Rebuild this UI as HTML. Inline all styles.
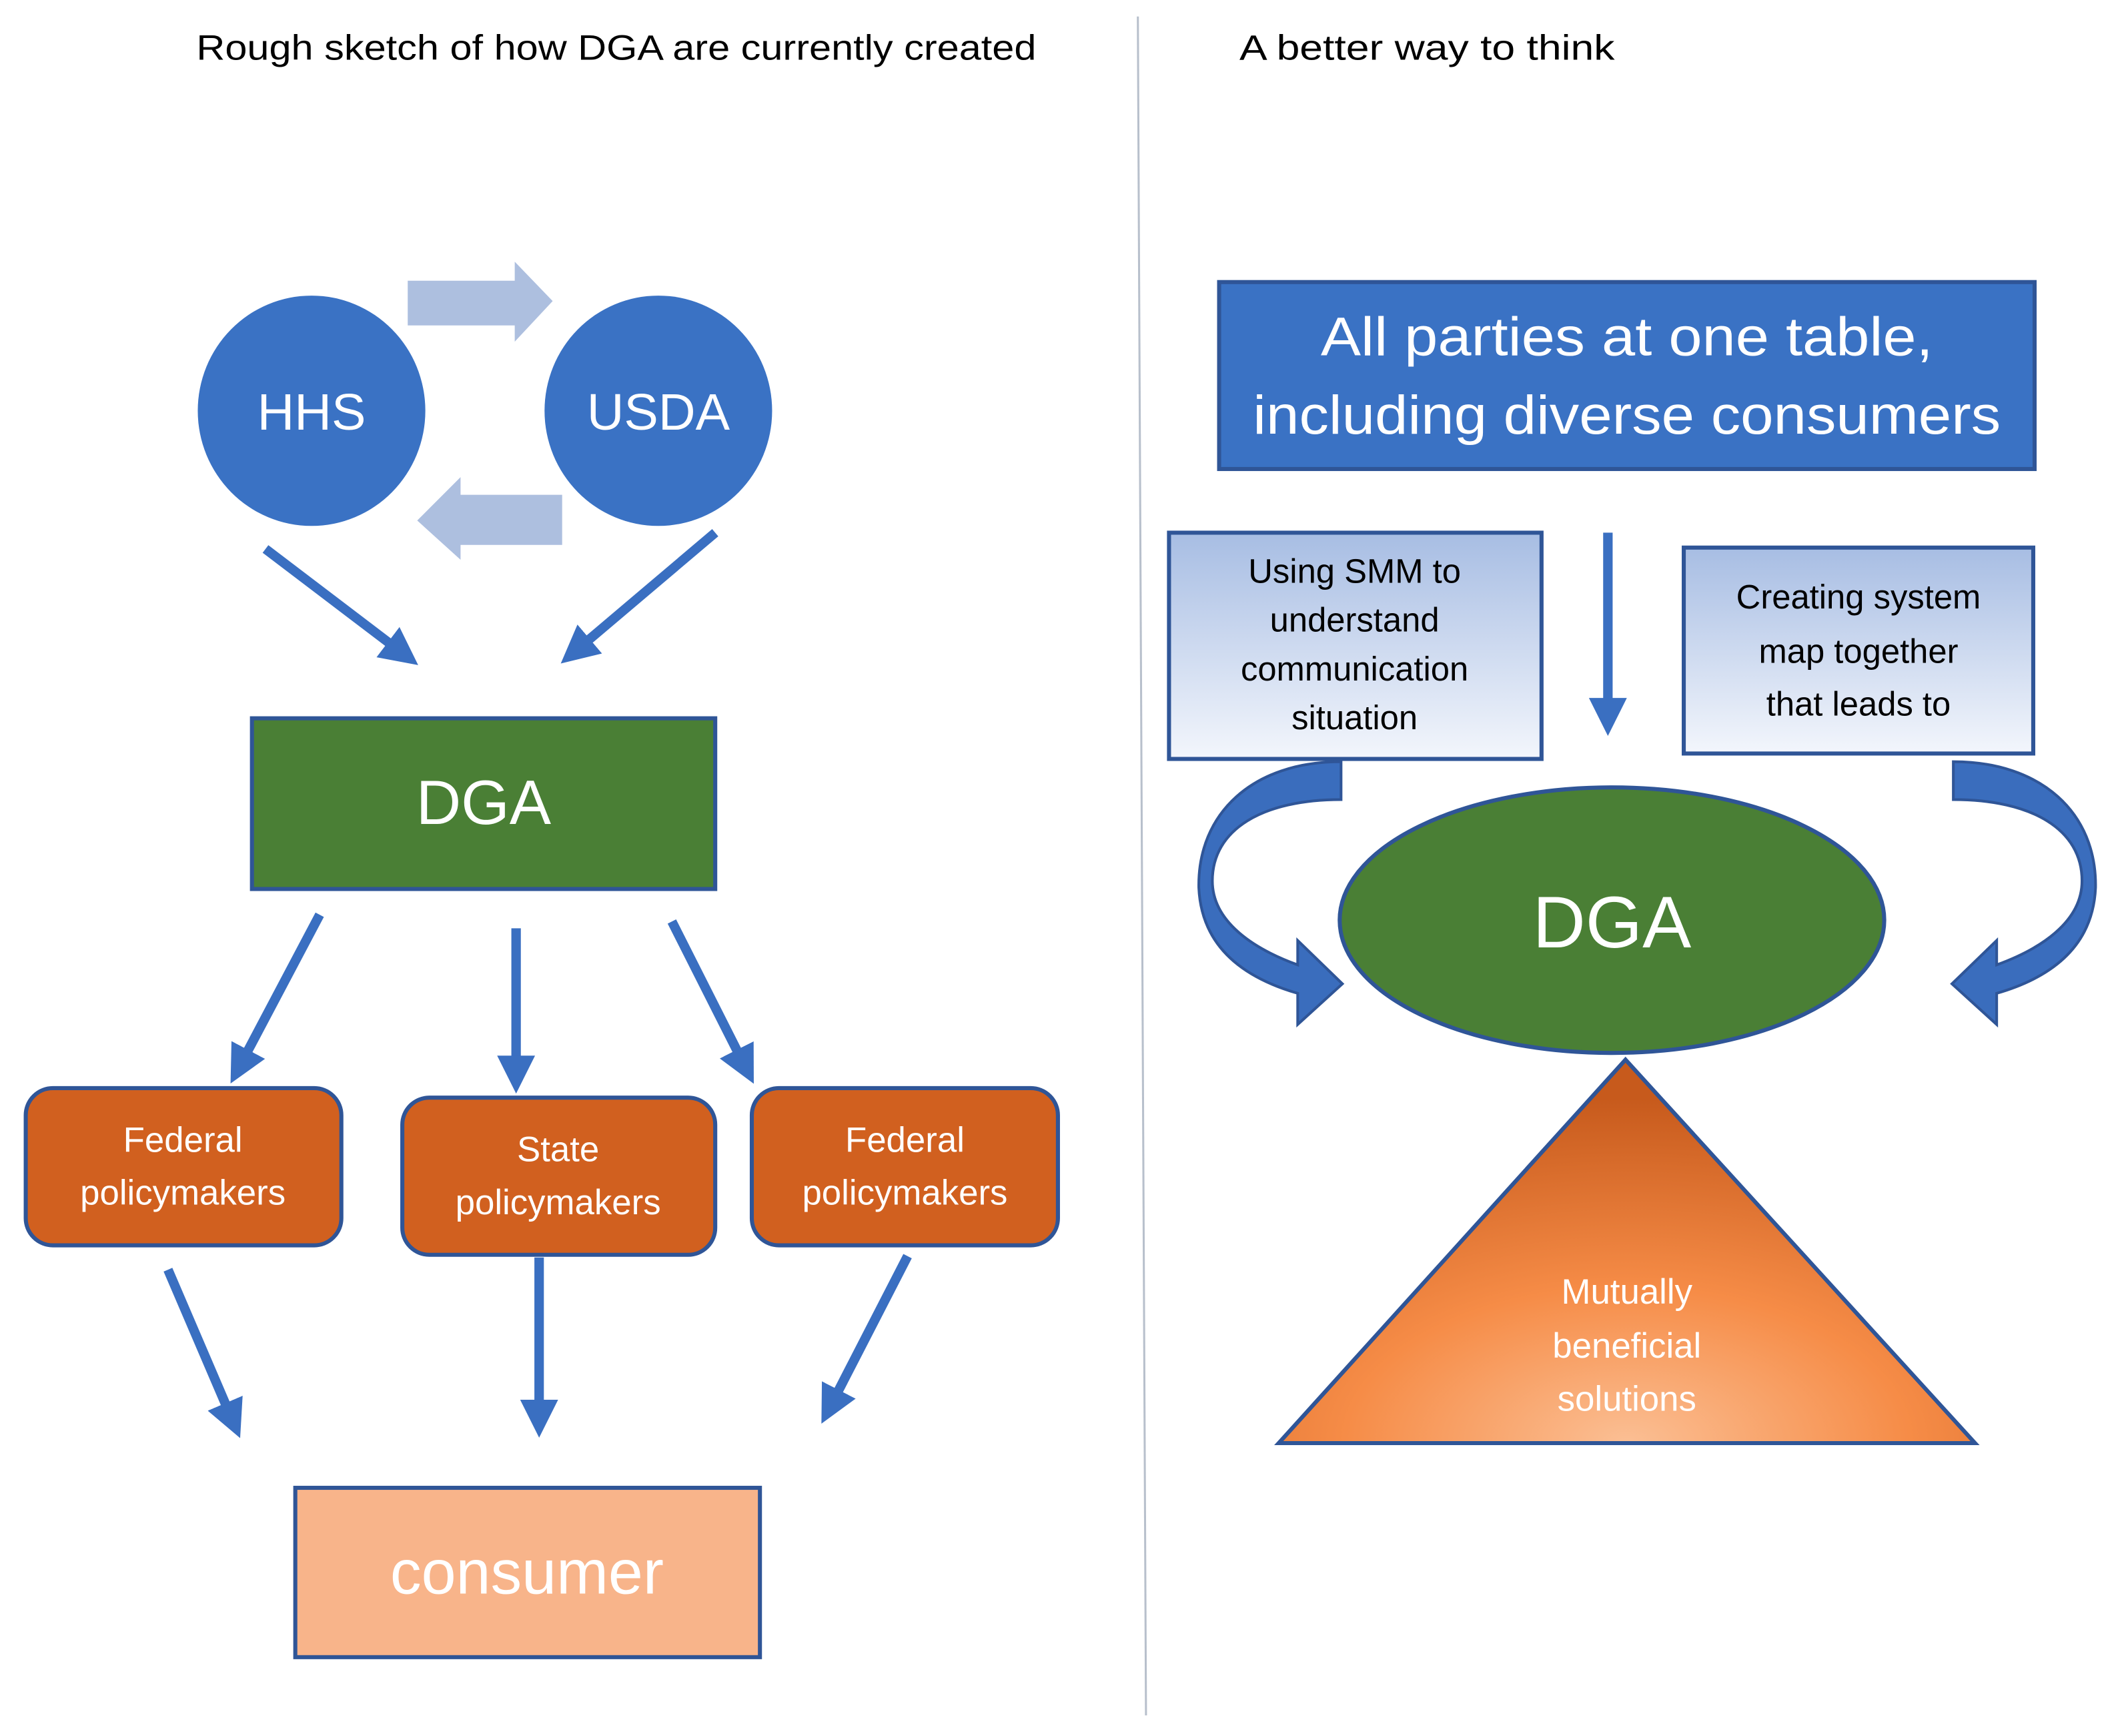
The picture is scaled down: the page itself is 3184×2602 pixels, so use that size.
<!DOCTYPE html>
<html><head><meta charset="utf-8"><style>html,body{margin:0;padding:0;background:#fff}svg{display:block}</style></head>
<body>
<svg width="3184" height="2602" viewBox="0 0 1568 1281" xmlns="http://www.w3.org/2000/svg" font-family="'Liberation Sans', sans-serif">
<defs>
<marker id="ah" markerWidth="4" markerHeight="4" refX="1" refY="2" orient="auto" markerUnits="strokeWidth"><path d="M0,0 L4,2 L0,4 Z" fill="#3a6fc1"/></marker>
<linearGradient id="bg" x1="0" y1="0" x2="0" y2="1"><stop offset="0" stop-color="#a7bde3"/><stop offset="1" stop-color="#f3f6fc"/></linearGradient>
<radialGradient id="tg" cx="0.5" cy="1" r="0.9"><stop offset="0" stop-color="#fbbf94"/><stop offset="0.45" stop-color="#f68c47"/><stop offset="1" stop-color="#c75a1c"/></radialGradient>
</defs>
<rect width="1568" height="1281" fill="#fff"/>
<text x="145" y="44" font-size="26" textLength="620" lengthAdjust="spacingAndGlyphs">Rough sketch of how DGA are currently created</text>
<text x="915" y="44" font-size="26" textLength="277" lengthAdjust="spacingAndGlyphs">A better way to think</text>
<line x1="840" y1="12" x2="846" y2="1266" stroke="#b8c0cc" stroke-width="1.5"/>

<!-- light arrows -->
<path d="M301,207 H380 V193 L408,222 L380,252 V240 H301 Z" fill="#adbfdf"/>
<path d="M415,365 H340 V352 L308,384 L340,413 V402 H415 Z" fill="#adbfdf"/>
<ellipse cx="230" cy="303" rx="84" ry="85" fill="#3a72c4"/>
<ellipse cx="486" cy="303" rx="84" ry="85" fill="#3a72c4"/>
<text x="230" y="317" font-size="38" fill="#fff" text-anchor="middle">HHS</text>
<text x="486" y="317" font-size="38" fill="#fff" text-anchor="middle">USDA</text>

<g stroke="#3a6fc1" stroke-width="7" marker-end="url(#ah)" fill="none">
<line x1="196" y1="405" x2="292" y2="478"/>
<line x1="528" y1="393" x2="430" y2="476"/>
<line x1="236" y1="675" x2="180" y2="781"/>
<line x1="381" y1="685" x2="381" y2="786"/>
<line x1="496" y1="680" x2="547" y2="781"/>
<line x1="124" y1="937" x2="169" y2="1042"/>
<line x1="398" y1="928" x2="398" y2="1040"/>
<line x1="670" y1="927" x2="616" y2="1032"/>
<line x1="1187" y1="393" x2="1187" y2="522"/>
</g>

<rect x="186" y="530" width="342" height="126" fill="#4a7f35" stroke="#2f5597" stroke-width="3"/>
<text x="357" y="608" font-size="46" fill="#fff" text-anchor="middle">DGA</text>

<g fill="#d1601f" stroke="#2f5597" stroke-width="3">
<rect x="19" y="803" width="233" height="116" rx="20"/>
<rect x="297" y="810" width="231" height="116" rx="20"/>
<rect x="555" y="803" width="226" height="116" rx="20"/>
</g>
<g font-size="26" fill="#fff" text-anchor="middle">
<text x="135" y="850">Federal</text><text x="135" y="889">policymakers</text>
<text x="412" y="857">State</text><text x="412" y="896">policymakers</text>
<text x="668" y="850">Federal</text><text x="668" y="889">policymakers</text>
</g>

<rect x="218" y="1098" width="343" height="125" fill="#f8b48a" stroke="#2f5597" stroke-width="3"/>
<text x="389" y="1176" font-size="46" fill="#fff" text-anchor="middle">consumer</text>

<!-- right -->
<rect x="900" y="208" width="602" height="138" fill="#3a72c4" stroke="#2f5597" stroke-width="3"/>
<text x="1201" y="262" font-size="40" fill="#fff" text-anchor="middle" textLength="452" lengthAdjust="spacingAndGlyphs">All parties at one table,</text>
<text x="1201" y="320" font-size="40" fill="#fff" text-anchor="middle" textLength="552" lengthAdjust="spacingAndGlyphs">including diverse consumers</text>

<rect x="863" y="393" width="275" height="167" fill="url(#bg)" stroke="#2f5597" stroke-width="3"/>
<rect x="1243" y="404" width="258" height="152" fill="url(#bg)" stroke="#2f5597" stroke-width="3"/>
<g font-size="25" fill="#000" text-anchor="middle">
<text x="1000" y="430">Using SMM to</text><text x="1000" y="466">understand</text><text x="1000" y="502">communication</text><text x="1000" y="538">situation</text>
<text x="1372" y="449">Creating system</text><text x="1372" y="489">map together</text><text x="1372" y="528">that leads to</text>
</g>

<path id="ca" d="M990,562 C925,562 884,600 885,655 C887,700 920,722 958,733 L958,756 L991,726 L958,694 L958,712 C925,700 895,680 895,650 C895,612 932,590 990,590 Z" fill="#3a6dbd" stroke="#2f5597" stroke-width="2"/>
<g transform="translate(2432,0) scale(-1,1)"><path d="M990,562 C925,562 884,600 885,655 C887,700 920,722 958,733 L958,756 L991,726 L958,694 L958,712 C925,700 895,680 895,650 C895,612 932,590 990,590 Z" fill="#3a6dbd" stroke="#2f5597" stroke-width="2"/></g>

<ellipse cx="1190" cy="679" rx="201" ry="98" fill="#4a7f35" stroke="#2f5597" stroke-width="3"/>
<text x="1190" y="699" font-size="54" fill="#fff" text-anchor="middle">DGA</text>

<polygon points="1200,782 944,1065 1458,1065" fill="url(#tg)" stroke="#2f5597" stroke-width="3"/>
<g font-size="26" fill="#fff" text-anchor="middle">
<text x="1201" y="962">Mutually</text><text x="1201" y="1002">beneficial</text><text x="1201" y="1041">solutions</text>
</g>
</svg>
</body></html>
